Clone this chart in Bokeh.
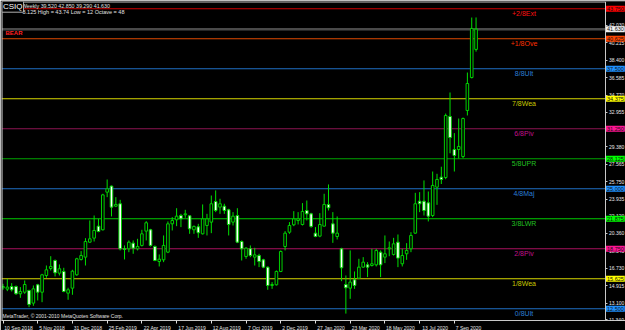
import pandas as pd
from bokeh.plotting import figure
from bokeh.models import (Range1d, LinearAxis, DatetimeAxis, FixedTicker,
                          PrintfTickFormatter, Span, Label, ColumnDataSource)
from bokeh.embed import file_html
from bokeh.resources import INLINE
from bokeh.core.properties import value

# ---------------- data ----------------
symbol = "CSIQ"
dates = pd.date_range("2018-09-10", periods=110, freq="7D")

open_ = [14.69, 14.55, 14.82, 14.82, 14.06, 14.23, 14.41, 13.09, 15.00, 14.23,
         15.97, 16.70, 17.53, 16.21, 16.39, 14.13, 14.65, 16.04, 17.64, 17.88,
         19.44, 19.86, 21.11, 20.73, 24.65, 25.28, 23.19, 23.44, 18.75, 18.75,
         19.34, 18.75, 19.10, 20.59, 20.73, 18.99, 17.43, 17.60, 18.40, 21.35,
         21.77, 22.22, 22.29, 22.19, 20.73, 21.04, 20.31, 21.18, 21.53, 23.68,
         23.09, 23.19, 22.81, 21.53, 22.22, 19.51, 17.95, 18.75, 17.88, 18.05,
         17.60, 16.84, 14.93, 15.00, 16.39, 18.99, 20.48, 21.25, 21.70, 21.28,
         22.74, 22.39, 20.38, 20.07, 21.11, 23.37, 21.35, 20.03, 18.75, 15.03,
         14.65, 15.52, 15.69, 16.84, 17.08, 17.01, 17.08, 18.40, 17.88, 18.75,
         18.16, 19.44, 17.19, 18.23, 18.75, 20.38, 23.71, 23.71, 23.54, 22.22,
         25.17, 26.21, 26.18, 32.53, 29.09, 29.09, 28.36, 33.16, 36.59, 39.52]
high = [15.10, 15.62, 15.17, 14.93, 14.76, 15.45, 14.48, 14.93, 15.10, 16.14,
        17.01, 17.98, 17.64, 17.12, 16.77, 14.69, 16.56, 17.81, 18.51, 19.86,
        21.70, 22.22, 21.87, 24.48, 25.97, 25.35, 24.13, 23.85, 19.10, 19.62,
        19.62, 19.79, 20.73, 21.63, 20.83, 19.10, 18.16, 20.14, 21.60, 22.05,
        22.98, 22.39, 22.81, 22.22, 21.18, 21.35, 23.37, 22.39, 24.30, 24.83,
        23.96, 23.44, 22.92, 22.57, 22.98, 19.62, 18.92, 19.10, 18.85, 18.23,
        17.71, 16.91, 15.28, 16.49, 18.58, 20.59, 21.53, 22.67, 22.57, 23.51,
        23.78, 22.50, 21.01, 22.46, 24.48, 25.45, 22.57, 22.12, 18.85, 15.97,
        18.58, 16.39, 17.71, 17.88, 17.36, 18.75, 18.75, 18.58, 20.14, 19.51,
        19.89, 20.24, 18.75, 19.34, 20.48, 24.58, 24.65, 25.87, 24.72, 26.80,
        26.56, 27.30, 32.84, 35.03, 30.80, 32.32, 32.42, 37.11, 42.84, 42.85]
low = [14.48, 14.34, 14.30, 13.96, 13.64, 14.06, 12.67, 12.81, 13.37, 13.19,
       15.73, 16.49, 15.87, 15.97, 14.23, 13.44, 13.96, 15.94, 17.53, 17.01,
       19.37, 19.51, 20.48, 20.66, 24.13, 22.12, 23.09, 18.58, 17.64, 18.40,
       18.23, 18.58, 18.99, 19.62, 18.99, 17.46, 16.91, 17.36, 18.30, 20.66,
       21.11, 21.01, 21.98, 20.31, 20.31, 19.89, 20.24, 20.14, 20.38, 22.57,
       22.39, 22.39, 20.14, 21.18, 19.34, 17.53, 17.71, 17.88, 17.01, 16.84,
       16.73, 14.48, 14.58, 14.93, 16.32, 18.58, 20.31, 21.11, 21.28, 21.18,
       21.70, 20.94, 19.96, 19.96, 21.08, 22.74, 19.37, 19.72, 15.38, 12.00,
       13.54, 14.58, 15.62, 16.77, 15.80, 16.91, 16.91, 15.80, 17.26, 17.98,
       18.05, 16.84, 16.91, 17.60, 18.40, 20.31, 22.57, 22.22, 21.60, 22.05,
       23.33, 25.50, 26.00, 28.70, 26.80, 28.16, 28.20, 32.64, 36.50, 39.29]
close = [14.82, 14.76, 14.48, 14.06, 14.30, 15.03, 12.95, 14.58, 14.23, 16.04,
         16.56, 16.91, 16.25, 16.67, 14.30, 14.48, 16.42, 17.71, 18.05, 19.51,
         19.79, 20.66, 20.55, 24.37, 25.00, 23.09, 23.37, 18.75, 18.68, 19.44,
         18.82, 18.99, 20.31, 21.46, 19.10, 17.53, 17.67, 19.10, 21.35, 21.70,
         22.15, 21.87, 22.39, 20.83, 21.08, 20.42, 21.87, 21.87, 23.44, 22.74,
         23.44, 22.74, 21.28, 22.15, 19.44, 18.75, 18.82, 18.05, 18.12, 17.43,
         16.84, 14.93, 15.03, 16.39, 18.47, 20.38, 21.18, 21.87, 21.87, 22.64,
         22.39, 21.08, 20.03, 21.28, 23.37, 23.02, 20.38, 20.38, 16.77, 14.69,
         15.28, 14.93, 16.84, 17.36, 16.84, 17.19, 18.58, 17.08, 18.23, 18.85,
         19.27, 17.78, 18.05, 18.58, 20.14, 23.44, 23.44, 22.74, 22.15, 25.35,
         25.97, 25.97, 32.64, 30.34, 28.47, 29.41, 32.32, 35.97, 41.70, 41.63]

levels = [12.5, 15.625, 18.75, 21.875, 25.0, 28.125, 31.25, 34.375, 37.5, 40.625, 43.75]
level_names = ["0/8Ult", "1/8Wea", "2/8Piv", "3/8LWR", "4/8Maj", "5/8UPR",
               "6/8Piv", "7/8Wea", "8/8Ult", "+1/8Ove", "+2/8Ext"]
level_line_colors = ["#1f6fc4", "#d8d800", "#a8105e", "#00cc00", "#1f6fc4", "#00a400",
                     "#8c1452", "#d8d800", "#1f6fc4", "#e04a00", "#d00000"]
level_text_colors = ["#2a7fd8", "#c8c800", "#c0108c", "#20c020", "#2a7fd8", "#20c020",
                     "#c0108c", "#c8c800", "#2a7fd8", "#ff3000", "#ff1010"]
level_box_colors = ["#1e90ff", "#ffff00", "#ff1493", "#00ff00", "#1e90ff", "#00ff00",
                    "#ff1493", "#ffff00", "#1e90ff", "#ff4500", "#ff0000"]

price_ticks = [11.340, 13.100, 14.915, 16.730, 18.545, 20.360, 22.120, 23.935, 25.750,
               27.565, 29.380, 31.195, 32.955, 34.770, 36.585, 38.400, 40.215, 42.030, 43.845]

date_tick_labels = ["10 Sep 2018", "5 Nov 2018", "31 Dec 2018", "25 Feb 2019",
                    "22 Apr 2019", "17 Jun 2019", "12 Aug 2019", "7 Oct 2019",
                    "2 Dec 2019", "27 Jan 2020", "23 Mar 2020", "18 May 2020",
                    "13 Jul 2020", "7 Sep 2020"]
date_tick_step = 8  # weeks between labels

header_line2 = "3.125  High = 43.74  Low = 12  Octave = 48"
signal_text = "BEAR"
copyright_text = "MetaTrader, \u00a9 2001-2010 MetaQuotes Software Corp."

# ---------------- geometry ----------------
DAY = 86400000
PX_PER_BAR = 4.34
FRAME_W, FRAME_H = 624, 319
AXIS_PX = 604.5          # where the price scale sits (MetaTrader style)
t0 = dates[0].value // 10**6
ms_per_px = 7 * DAY / PX_PER_BAR
x_start = t0 - 1.5 * ms_per_px
x_end = x_start + FRAME_W * ms_per_px
PX_PER_PRICE = 9.6
y_bottom = 12.5 - (320 - 308.3) / PX_PER_PRICE
y_top = y_bottom + FRAME_H / PX_PER_PRICE


def xdata(px):
    return x_start + (px - 1) * ms_per_px


def ydata(py):
    return 12.5 + (308.3 - py) / PX_PER_PRICE


FONT = "Liberation Sans"
x_axis_pos = xdata(AXIS_PX)

p = figure(frame_width=FRAME_W, frame_height=FRAME_H,
           x_range=Range1d(x_start, x_end), y_range=Range1d(y_bottom, y_top),
           x_axis_type=None, y_axis_location=None,
           toolbar_location=None, output_backend="svg",
           background_fill_color="black", border_fill_color="black",
           min_border_left=1, min_border_top=1, min_border_right=0, min_border_bottom=0)
p.grid.visible = False
p.outline_line_color = None

# right price axis, drawn at the chart's right edge
yaxis = LinearAxis(ticker=FixedTicker(ticks=price_ticks),
                   formatter=PrintfTickFormatter(format="%.3f"),
                   fixed_location=x_axis_pos)
yaxis.axis_line_color = "#c8c8c8"
yaxis.major_tick_line_color = "#c8c8c8"
yaxis.major_tick_out = 2
yaxis.major_tick_in = 0
yaxis.minor_tick_line_color = None
yaxis.major_label_standoff = 2
yaxis.major_label_text_color = "#e8e8e8"
yaxis.major_label_text_font = FONT
yaxis.major_label_text_font_size = "5px"
p.add_layout(yaxis, "right")

# bottom date axis: labels start just right of each tick (MetaTrader style)
tick_ms = [int(dates[i].value // 10**6) for i in range(0, len(dates), date_tick_step)][:len(date_tick_labels)]
label_ms = []
overrides = {}
for t, lab in zip(tick_ms, date_tick_labels):
    shift_px = 1.5 + 0.5 * len(lab) * 2.55
    m = int(round(t + shift_px * ms_per_px))
    label_ms.append(m)
    overrides[m] = lab
xaxis = DatetimeAxis(ticker=FixedTicker(ticks=label_ms, minor_ticks=tick_ms))
xaxis.major_label_overrides = overrides
xaxis.axis_line_color = "#c8c8c8"
xaxis.major_tick_out = 0
xaxis.major_tick_in = 0
xaxis.major_tick_line_color = None
xaxis.minor_tick_out = 3
xaxis.minor_tick_in = 0
xaxis.minor_tick_line_color = "#e0e0e0"
xaxis.major_label_standoff = 1
xaxis.major_label_text_color = "#e8e8e8"
xaxis.major_label_text_font = FONT
xaxis.major_label_text_font_size = "5px"
p.add_layout(xaxis, "below")

# chart borders (left and top)
p.add_layout(Span(location=xdata(1.5), dimension="height", line_color="#e0e0e0", line_width=1))
p.segment(x0=[x_start], y0=[ydata(1.5)], x1=[x_axis_pos], y1=[ydata(1.5)],
          line_color="#c8c8c8", line_width=1)

# Murrey math level lines
n = len(levels)
p.segment(x0=[x_start] * n, y0=levels, x1=[x_axis_pos] * n, y1=levels,
          line_color=level_line_colors, line_width=1.1)

# current price line
p.segment(x0=[x_start], y0=[close[-1]], x1=[x_axis_pos], y1=[close[-1]],
          line_color="#4a4a4a", line_width=2.5)

# candles
bull = [c >= o for o, c in zip(open_, close)]
src = ColumnDataSource(dict(
    x=dates, high=high, low=low,
    top=[max(o, c) for o, c in zip(open_, close)],
    bottom=[min(o, c) for o, c in zip(open_, close)],
    fill=["#000000" if b else "#ffffff" for b in bull]))
p.segment(x0="x", y0="high", x1="x", y1="low", source=src, line_color="#00e000", line_width=1)
p.vbar(x="x", top="top", bottom="bottom", width=2.6 * ms_per_px, source=src,
       fill_color="fill", line_color="#00d000", line_width=1)

# level names
lsrc = ColumnDataSource(dict(x=[xdata(523.5)] * n, y=levels,
                             text=level_names, color=level_text_colors))
p.text(x="x", y="y", text="text", source=lsrc, text_color="color",
       text_font=value(FONT), text_font_size="7px", text_align="center",
       text_baseline="middle", y_offset=5)

# price boxes on the scale
for lv, bc in zip(levels, level_box_colors):
    p.add_layout(Label(x=xdata(605.5), y=lv, text=f"{lv:.3f}", text_font=FONT,
                       text_font_size="5.5px", text_color="#101010", text_align="left",
                       text_baseline="middle", background_fill_color=bc, padding=1))
p.add_layout(Label(x=xdata(605.5), y=close[-1], text=f"{close[-1]:.3f}", text_font=FONT,
                   text_font_size="5.5px", text_color="#101010", text_align="left",
                   text_baseline="middle", background_fill_color="#f0f0f0", padding=1))

# header texts
title = f"{symbol},Weekly  {open_[-1]:.3f} {high[-1]:.3f} {low[-1]:.3f} {close[-1]:.3f}"
p.add_layout(Label(x=xdata(7), y=ydata(5.2), text=title, text_font=FONT,
                   text_font_size="5.3px", text_color="#e0e0e0", text_baseline="middle"))
p.add_layout(Label(x=xdata(22), y=ydata(11.5), text=header_line2, text_font=FONT,
                   text_font_size="5.5px", text_color="#e0e0e0", text_baseline="middle"))
p.add_layout(Label(x=xdata(1.5), y=ydata(6.2), text=symbol, text_font=FONT,
                   text_font_size="8px", text_color="#ffffff", text_baseline="middle",
                   background_fill_color="#000000", border_line_color="#b0b0b0", padding=1))
p.add_layout(Label(x=xdata(5), y=ydata(32.2), text=signal_text, text_font=FONT,
                   text_font_size="6px", text_font_style="bold", text_color="#ff2020",
                   text_baseline="middle"))
p.add_layout(Label(x=xdata(2), y=ydata(315), text=copyright_text, text_font=FONT,
                   text_font_size="5px", text_color="#e0e0e0", text_baseline="middle"))

open("out.html", "w").write(file_html(p, INLINE))
